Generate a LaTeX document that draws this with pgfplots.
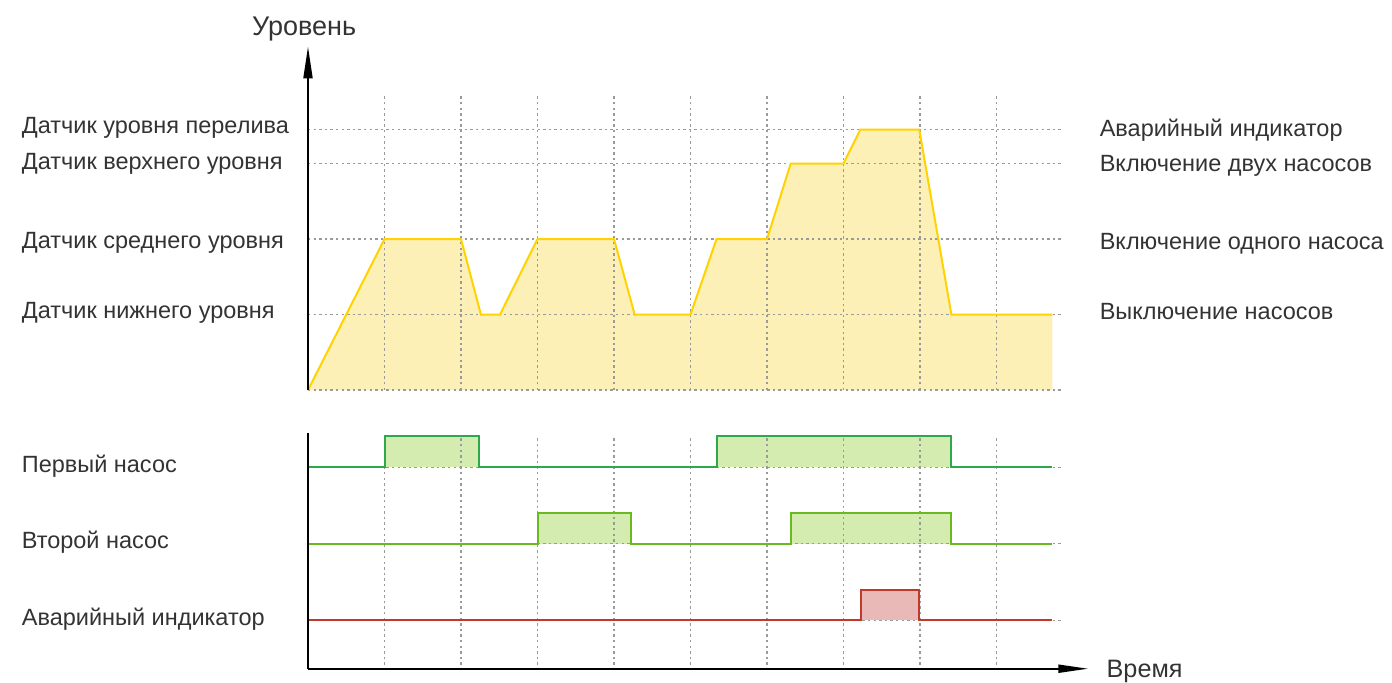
\documentclass[border=0pt]{standalone}
\usepackage{fontspec}
\setmainfont{Liberation Sans}
\usepackage{pgfplots}
\pgfplotsset{compat=1.18}
\usetikzlibrary{arrows.meta}
\definecolor{lvlline}{HTML}{FFD300}
\definecolor{lvlfill}{HTML}{FDF0B6}
\definecolor{p1line}{HTML}{2DA84A}
\definecolor{p2line}{HTML}{69B920}
\definecolor{pfill}{HTML}{D5ECB0}
\definecolor{alline}{HTML}{C0392B}
\definecolor{alfill}{HTML}{E9B9B7}
\definecolor{gridc}{HTML}{9A9A9A}
\definecolor{txt}{HTML}{333333}
\tikzset{gridl/.style={gridc, line width=0.6pt, dash pattern=on 1.2pt off 1.6pt},
  lbl/.style={anchor=base west, inner sep=0pt, outer sep=0pt}}
\pgfplotstableread{
x y
0 0
1.0 2
2.0 2
2.26 1
2.51 1
3.0 2
4.0 2
4.27 1
5.0 1
5.34 2
6.0 2
6.31 3
7.0 3
7.22 3.45
7.99 3.45
8.41 1
9.73 1
}\level
\pgfplotstableread{
x y
0 201.5
1.0 201.5
1.0 232.5
2.24 232.5
2.24 201.5
5.34 201.5
5.34 232.5
8.41 232.5
8.41 201.5
9.73 201.5
}\pumpone
\pgfplotstableread{
x y
0 125
3.0 125
3.0 156
4.22 156
4.22 125
6.31 125
6.31 156
8.41 156
8.41 125
9.73 125
}\pumptwo
\pgfplotstableread{
x y
0 48.5
7.23 48.5
7.23 78.5
7.99 78.5
7.99 48.5
9.73 48.5
}\alarm
\begin{document}
\begin{tikzpicture}[font=\fontsize{11.75}{14}\selectfont, text=txt]
\useasboundingbox (0,0) rectangle (696pt,-341pt);
% ---------- top panel ----------
\begin{axis}[at={(154pt,-195pt)}, anchor=origin, x=38.25pt, y=37.75pt,
  xmin=0, xmax=9.86, ymin=0, ymax=4.6, hide axis, clip=false]
\addplot[draw=none, fill=lvlfill] table {\level} \closedcycle;
\pgfplotsinvokeforeach{1,2,3,4,5,6,7,8,9}{\draw[gridl] (axis cs:#1,0) -- (axis cs:#1,3.9);}
\pgfplotsinvokeforeach{0,1,2,3,3.45}{\draw[gridl] (axis cs:0,#1) -- (axis cs:9.86,#1);}
\addplot[lvlline, line width=1pt] table {\level};
\draw[black, line width=1pt, -{Triangle[length=16pt,width=4.5pt]}] (axis cs:0,0) -- (axis cs:0,4.55);
\node[anchor=base, inner sep=0pt] at (axis cs:-0.05,4.69) {\fontsize{13.5}{15}\selectfont Уровень};
\node[lbl] at (axis cs:-3.74,3.40) {Датчик уровня перелива};
\node[lbl] at (axis cs:-3.74,2.92) {Датчик верхнего уровня};
\node[lbl] at (axis cs:-3.74,1.88) {Датчик среднего уровня};
\node[lbl] at (axis cs:-3.74,0.95) {Датчик нижнего уровня};
\node[lbl] at (axis cs:10.35,3.36) {Аварийный индикатор};
\node[lbl] at (axis cs:10.35,2.89) {Включение двух насосов};
\node[lbl] at (axis cs:10.35,1.86) {Включение одного насоса};
\node[lbl] at (axis cs:10.35,0.93) {Выключение насосов};
\end{axis}
% ---------- bottom panel ----------
\begin{axis}[at={(154pt,-334.35pt)}, anchor=origin, x=38.25pt, y=0.5pt,
  xmin=0, xmax=9.86, ymin=0, ymax=240, hide axis, clip=false]
\addplot[draw=none, fill=pfill] coordinates {(1.0,201.5)(1.0,232.5)(2.24,232.5)(2.24,201.5)} -- cycle;
\addplot[draw=none, fill=pfill] coordinates {(5.34,201.5)(5.34,232.5)(8.41,232.5)(8.41,201.5)} -- cycle;
\addplot[draw=none, fill=pfill] coordinates {(3.0,125)(3.0,156)(4.22,156)(4.22,125)} -- cycle;
\addplot[draw=none, fill=pfill] coordinates {(6.31,125)(6.31,156)(8.41,156)(8.41,125)} -- cycle;
\addplot[draw=none, fill=alfill] coordinates {(7.23,48.5)(7.23,78.5)(7.99,78.5)(7.99,48.5)} -- cycle;
\pgfplotsinvokeforeach{1,2,3,4,5,6,7,8,9}{\draw[gridl] (axis cs:#1,4) -- (axis cs:#1,233);}
\pgfplotsinvokeforeach{201.5,125,48.5}{\draw[gridl] (axis cs:0,#1) -- (axis cs:9.86,#1);}
\addplot[p1line, line width=1pt] table {\pumpone};
\addplot[p2line, line width=1pt] table {\pumptwo};
\addplot[alline, line width=1pt] table {\alarm};
\draw[black, line width=1pt] (axis cs:0,236) -- (axis cs:0,0);
\draw[black, line width=1pt, -{Triangle[length=15pt,width=4pt]}] (axis cs:0,0) -- (axis cs:10.2,0);
\node[lbl] at (axis cs:10.44,-8.3) {\fontsize{12.6}{14}\selectfont Время};
\node[lbl] at (axis cs:-3.74,196.4) {Первый насос};
\node[lbl] at (axis cs:-3.74,120.4) {Второй насос};
\node[lbl] at (axis cs:-3.74,43.7) {Аварийный индикатор};
\end{axis}
\end{tikzpicture}
\end{document}
